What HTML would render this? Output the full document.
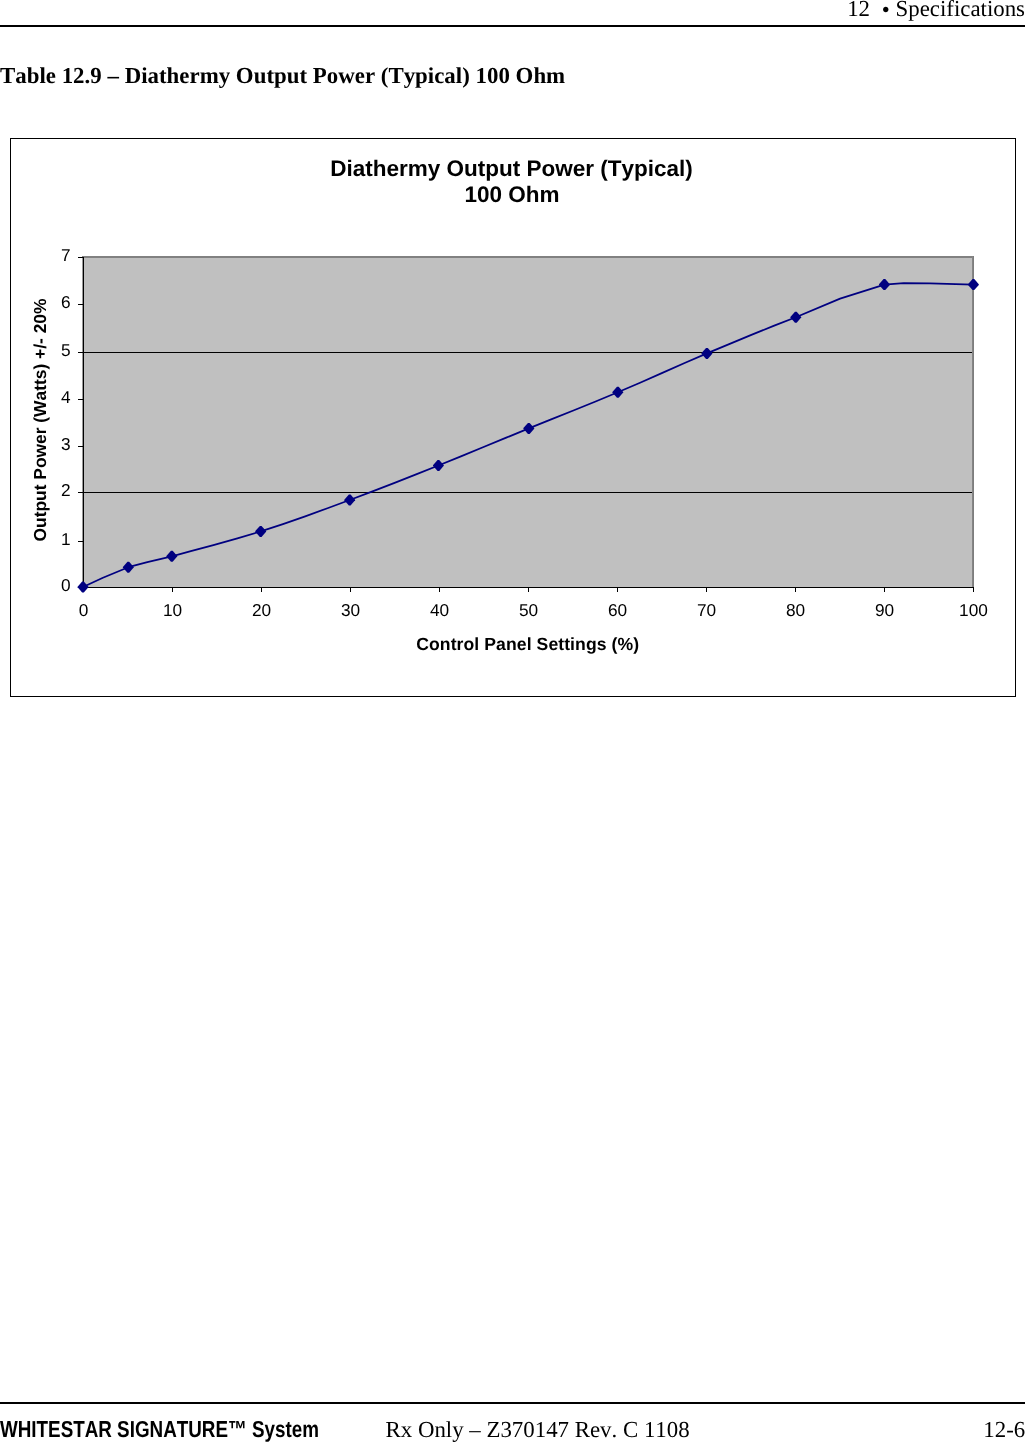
<!DOCTYPE html>
<html><head><meta charset="utf-8"><style>
html,body{font-kerning:none;font-feature-settings:"kern" 0,"liga" 0;margin:0;padding:0;background:#fff;width:1025px;height:1442px;overflow:hidden}
svg{display:block;will-change:transform;text-rendering:geometricPrecision}
.serif{font-family:"Liberation Serif",serif}
.sans{font-family:"Liberation Sans",sans-serif}
</style></head><body>
<svg width="1025" height="1442" viewBox="0 0 1025 1442">
<rect x="0" y="0" width="1025" height="1442" fill="#fff"/>
<!-- header -->
<text class="serif" x="1025" y="16" font-size="22.87" text-anchor="end" fill="#000">12 <tspan dx="6" dy="0.8">•</tspan><tspan dy="-0.8"> Specifications</tspan></text>
<rect x="0" y="25" width="1025" height="2" fill="#000"/>
<text class="serif" x="0" y="83" font-size="22.87" font-weight="bold" letter-spacing="0.013" fill="#000">Table 12.9 – Diathermy Output Power (Typical) 100 Ohm</text>
<!-- chart -->
<rect x="10.5" y="138.5" width="1005" height="558" fill="#fff" stroke="#000" stroke-width="1"/>
<text class="sans" x="511.5" y="176" font-size="22.5" font-weight="bold" text-anchor="middle" fill="#000">Diathermy Output Power (Typical)</text>
<text class="sans" x="512" y="202.3" font-size="22.5" font-weight="bold" text-anchor="middle" fill="#000">100 Ohm</text>
<rect x="83" y="257" width="890" height="330" fill="#c0c0c0"/>
<rect x="82" y="256" width="892" height="2" fill="#818181"/>
<rect x="972" y="256" width="1" height="331" fill="#858585"/>
<rect x="973" y="256" width="1" height="331" fill="#7d7d7d"/>
<rect x="82" y="258" width="1" height="329" fill="#999"/>
<g stroke="#000" stroke-width="1">
<line x1="83" y1="352.5" x2="972" y2="352.5"/>
<line x1="83" y1="492.5" x2="972" y2="492.5"/>
<line x1="78" y1="257.50000" x2="83" y2="257.50000"/><line x1="78" y1="304.50000" x2="83" y2="304.50000"/><line x1="78" y1="352.50000" x2="83" y2="352.50000"/><line x1="78" y1="399.50000" x2="83" y2="399.50000"/><line x1="78" y1="446.50000" x2="83" y2="446.50000"/><line x1="78" y1="492.50000" x2="83" y2="492.50000"/><line x1="78" y1="541.50000" x2="83" y2="541.50000"/><line x1="78" y1="587.50000" x2="83" y2="587.50000"/>
<line x1="83.5" y1="587" x2="83.5" y2="592"/><line x1="172.5" y1="587" x2="172.5" y2="592"/><line x1="261.5" y1="587" x2="261.5" y2="592"/><line x1="350.5" y1="587" x2="350.5" y2="592"/><line x1="439.5" y1="587" x2="439.5" y2="592"/><line x1="528.5" y1="587" x2="528.5" y2="592"/><line x1="617.5" y1="587" x2="617.5" y2="592"/><line x1="706.5" y1="587" x2="706.5" y2="592"/><line x1="795.5" y1="587" x2="795.5" y2="592"/><line x1="884.5" y1="587" x2="884.5" y2="592"/><line x1="973.5" y1="587" x2="973.5" y2="592"/>
<line x1="83.5" y1="257" x2="83.5" y2="588"/>
<line x1="83" y1="587.5" x2="974" y2="587.5"/>
</g>
<g class="sans" font-size="17.25" fill="#000">
<text x="70.5" y="261.2" text-anchor="end">7</text><text x="70.5" y="308.2" text-anchor="end">6</text><text x="70.5" y="356.2" text-anchor="end">5</text><text x="70.5" y="403.2" text-anchor="end">4</text><text x="70.5" y="450.2" text-anchor="end">3</text><text x="70.5" y="496.2" text-anchor="end">2</text><text x="70.5" y="545.2" text-anchor="end">1</text><text x="70.5" y="591.2" text-anchor="end">0</text>
<text x="83.5" y="616.2" text-anchor="middle">0</text><text x="172.5" y="616.2" text-anchor="middle">10</text><text x="261.5" y="616.2" text-anchor="middle">20</text><text x="350.5" y="616.2" text-anchor="middle">30</text><text x="439.5" y="616.2" text-anchor="middle">40</text><text x="528.5" y="616.2" text-anchor="middle">50</text><text x="617.5" y="616.2" text-anchor="middle">60</text><text x="706.5" y="616.2" text-anchor="middle">70</text><text x="795.5" y="616.2" text-anchor="middle">80</text><text x="884.5" y="616.2" text-anchor="middle">90</text><text x="973.5" y="616.2" text-anchor="middle">100</text>
</g>
<text class="sans" x="527.7" y="650" font-size="17.6" font-weight="bold" letter-spacing="0.08" text-anchor="middle" fill="#000">Control Panel Settings (%)</text>
<text class="sans" transform="translate(46.4,420) rotate(-90)" x="0" y="0" font-size="17.4" font-weight="bold" text-anchor="middle" fill="#000">Output Power (Watts) +/- 20%</text>
<path d="M83.00,587.00 L102.93,577.78 L128.30,567.20 L147.33,562.07 L171.80,556.30 L190.83,551.21 L213.41,545.13 L237.40,538.41 L260.70,531.40 L282.95,524.08 L305.21,516.30 L327.47,508.22 L349.70,500.00 L371.86,491.65 L393.96,483.11 L416.11,474.38 L438.40,465.50 L460.91,456.38 L483.58,447.05 L506.26,437.67 L528.80,428.40 L551.15,419.37 L573.38,410.46 L595.58,401.50 L617.80,392.30 L640.07,382.71 L662.36,372.86 L684.64,363.00 L706.90,353.40 L729.15,344.08 L751.38,334.91 L773.60,325.93 L795.80,317.20 L840.09,298.64 L884.40,284.60 L903.71,283.22 L930.00,283.38 L955.73,284.14 L973.40,284.60" fill="none" stroke="#000080" stroke-width="1.75" stroke-linejoin="round"/>
<g fill="#000080"><path d="M82.15,581.50 L83.85,581.50 L88.40,586.70 L88.40,587.30 L83.85,592.50 L82.15,592.50 L77.60,587.30 L77.60,586.70z"/><path d="M127.45,561.70 L129.15,561.70 L133.70,566.90 L133.70,567.50 L129.15,572.70 L127.45,572.70 L122.90,567.50 L122.90,566.90z"/><path d="M170.95,550.80 L172.65,550.80 L177.20,556.00 L177.20,556.60 L172.65,561.80 L170.95,561.80 L166.40,556.60 L166.40,556.00z"/><path d="M259.85,525.90 L261.55,525.90 L266.10,531.10 L266.10,531.70 L261.55,536.90 L259.85,536.90 L255.30,531.70 L255.30,531.10z"/><path d="M348.85,494.50 L350.55,494.50 L355.10,499.70 L355.10,500.30 L350.55,505.50 L348.85,505.50 L344.30,500.30 L344.30,499.70z"/><path d="M437.55,460.00 L439.25,460.00 L443.80,465.20 L443.80,465.80 L439.25,471.00 L437.55,471.00 L433.00,465.80 L433.00,465.20z"/><path d="M527.95,422.90 L529.65,422.90 L534.20,428.10 L534.20,428.70 L529.65,433.90 L527.95,433.90 L523.40,428.70 L523.40,428.10z"/><path d="M616.95,386.80 L618.65,386.80 L623.20,392.00 L623.20,392.60 L618.65,397.80 L616.95,397.80 L612.40,392.60 L612.40,392.00z"/><path d="M706.05,347.90 L707.75,347.90 L712.30,353.10 L712.30,353.70 L707.75,358.90 L706.05,358.90 L701.50,353.70 L701.50,353.10z"/><path d="M794.95,311.70 L796.65,311.70 L801.20,316.90 L801.20,317.50 L796.65,322.70 L794.95,322.70 L790.40,317.50 L790.40,316.90z"/><path d="M883.55,279.10 L885.25,279.10 L889.80,284.30 L889.80,284.90 L885.25,290.10 L883.55,290.10 L879.00,284.90 L879.00,284.30z"/><path d="M972.55,279.10 L974.25,279.10 L978.80,284.30 L978.80,284.90 L974.25,290.10 L972.55,290.10 L968.00,284.90 L968.00,284.30z"/></g>
<!-- footer -->
<rect x="0" y="1402" width="1025" height="2" fill="#000"/>
<text class="sans" transform="translate(0,1437) scale(1,1)" x="0" y="0" font-size="23.1" text-rendering="geometricPrecision" font-weight="bold" textLength="319" lengthAdjust="spacingAndGlyphs" fill="#000">WHITESTAR SIGNATURE™ System</text>
<text class="serif" x="385.5" y="1436.5" font-size="22.87" fill="#000">Rx Only – Z370147 Rev. C 1108</text>
<text class="serif" x="1025.2" y="1436.5" font-size="22.87" text-anchor="end" fill="#000">12-6</text>
</svg>
</body></html>
